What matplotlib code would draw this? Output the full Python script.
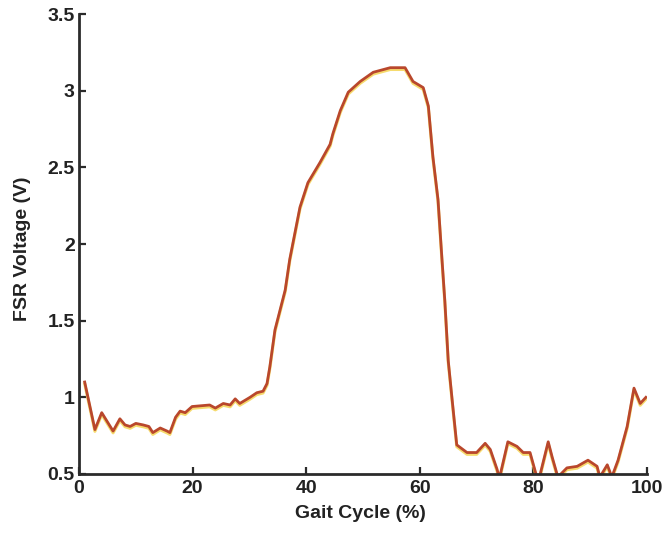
import matplotlib
matplotlib.use("Agg")
import matplotlib.pyplot as plt
import matplotlib.transforms as mtransforms

# FSR voltage over one gait cycle (heel sensor)
gait_pct = [1.0, 2.8, 4.0, 6.0, 7.2, 8.1, 9.0, 10.0, 11.3, 12.3, 13.0, 14.3, 15.5, 16.0,
            17.0, 17.8, 18.7, 19.9, 23.0, 24.0, 25.4, 26.6, 27.5, 28.3, 30.1, 31.3, 32.4,
            33.1, 33.6, 34.5, 36.3, 37.1, 38.9, 40.3, 42.4, 44.2, 44.7, 46.0, 47.4, 49.5,
            51.8, 54.8, 57.4, 58.8, 60.6, 61.5, 62.3, 63.2, 63.9, 64.4, 65.0, 65.7, 66.5,
            68.3, 70.0, 71.5, 72.4, 73.6, 74.0, 75.5, 77.1, 78.2, 79.4, 80.6, 81.0, 82.6,
            83.3, 84.3, 85.9, 87.7, 89.6, 91.2, 91.7, 93.0, 93.8, 94.9, 96.5, 97.7, 98.8,
            99.8]
fsr_volt = [1.10, 0.79, 0.90, 0.78, 0.86, 0.82, 0.81, 0.83, 0.82, 0.81, 0.77, 0.80, 0.78, 0.77,
            0.87, 0.91, 0.90, 0.94, 0.95, 0.93, 0.96, 0.95, 0.99, 0.96, 1.00, 1.03, 1.04,
            1.09, 1.20, 1.44, 1.70, 1.90, 2.24, 2.40, 2.53, 2.65, 2.72, 2.87, 2.99, 3.06,
            3.12, 3.15, 3.15, 3.06, 3.02, 2.90, 2.57, 2.29, 1.90, 1.63, 1.24, 0.98, 0.69,
            0.64, 0.64, 0.70, 0.66, 0.53, 0.47, 0.71, 0.68, 0.64, 0.64, 0.48, 0.47, 0.71,
            0.61, 0.48, 0.54, 0.55, 0.59, 0.55, 0.48, 0.56, 0.48, 0.59, 0.81, 1.06, 0.96,
            1.00]

x_ticks = [0, 20, 40, 60, 80, 100]
y_ticks = [0.5, 1, 1.5, 2, 2.5, 3, 3.5]
y_tick_labels = ["0.5", "1", "1.5", "2", "2.5", "3", "3.5"]

plt.rcParams["font.family"] = ["Liberation Sans", "DejaVu Sans"]
plt.rcParams["font.weight"] = "bold"

fig = plt.figure(figsize=(6.65, 5.33), dpi=100)
ax = fig.add_axes([0.1188, 0.1107, 0.8542, 0.863])

# sombra amarelada logo abaixo da curva principal
sombra = mtransforms.offset_copy(ax.transData, fig=fig, x=0, y=-1.3, units="points")
ax.plot(gait_pct, fsr_volt, color="#f4d24a", linewidth=2.2, transform=sombra, alpha=0.8)
ax.plot(gait_pct, fsr_volt, color="#b9472c", linewidth=2.0)

ax.set_xlim(0, 100)
ax.set_ylim(0.5, 3.5)
ax.set_xticks(x_ticks)
ax.set_yticks(y_ticks)
ax.set_yticklabels(y_tick_labels)

ax.spines["top"].set_visible(False)
ax.spines["right"].set_visible(False)
for lado in ["left", "bottom"]:
    ax.spines[lado].set_linewidth(2.0)
    ax.spines[lado].set_color("#2b2b2b")

ax.tick_params(direction="in", length=5, width=1.6, colors="#2b2b2b",
               labelsize=14, pad=4)
ax.tick_params(axis="y", pad=3)
for lbl in ax.get_xticklabels() + ax.get_yticklabels():
    lbl.set_fontweight("bold")
    lbl.set_color("#222222")

ax.set_xlabel("Gait Cycle (%)", fontsize=14, fontweight="bold", color="#222222",
              va="center", ha="center")
ax.set_ylabel("FSR Voltage (V)", fontsize=14, fontweight="bold", color="#222222",
              va="center", ha="center")
ax.xaxis.set_label_coords(0.495, -0.085)
ax.yaxis.set_label_coords(-0.099, 0.49)

fig.savefig("out.png", dpi=100, facecolor="white")
